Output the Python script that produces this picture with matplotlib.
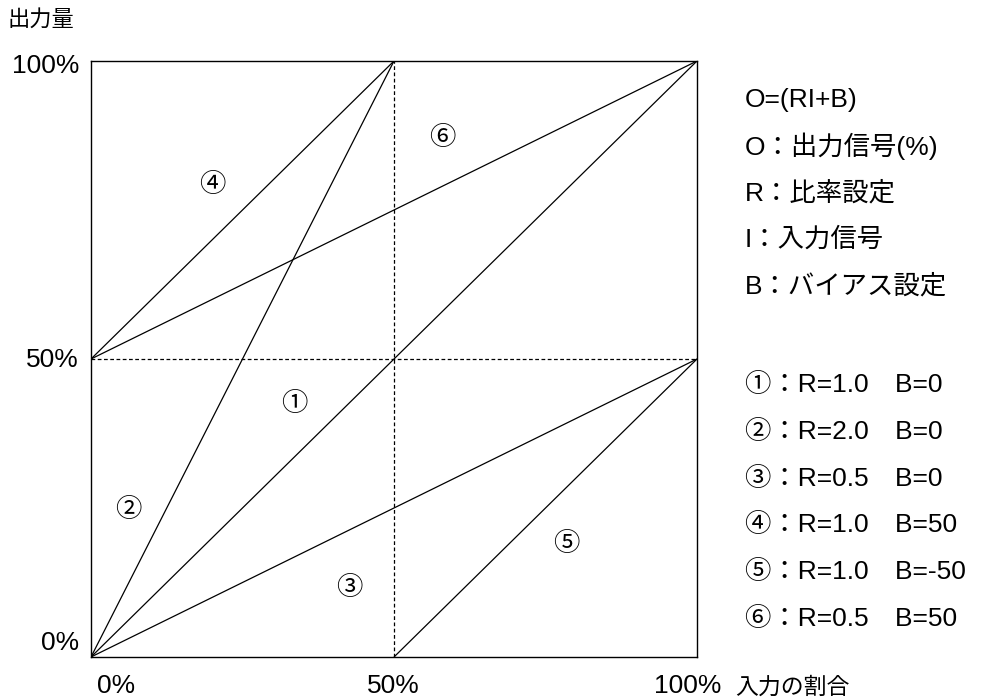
import numpy as np
import matplotlib
matplotlib.use("Agg")
import matplotlib.pyplot as plt

plt.rcParams['font.family'] = ['Liberation Sans', 'Noto Sans CJK JP', 'DejaVu Sans']

# data
labels = ['①', '②', '③', '④', '⑤', '⑥']
ratios = [1.0, 2.0, 0.5, 1.0, 1.0, 0.5]
biases = [0, 0, 0, 50, -50, 50]
x_ticks = [0, 50, 100]
x_tick_labels = ['0%', '50%', '100%']
y_ticks = [0, 50, 100]
y_tick_labels = ['0%', '50%', '100%']
formula_lines = ['O=(RI+B)', 'O：出力信号(%)', 'R：比率設定', 'I：入力信号', 'B：バイアス設定']
x_title = '入力の割合'
y_title = '出力量'

# label positions inside the plot (data coords)
label_pos = [(33.5, 42.6), (6.1, 24.7), (42.6, 11.6), (20.0, 79.2), (78.4, 19.1), (57.9, 87.2)]

W, H = 985, 700
fig = plt.figure(figsize=(W / 100, H / 100), dpi=100)
ax = fig.add_axes([91 / W, 1 - 657 / H, (697 - 91) / W, (657 - 61) / H])
ax.set_xlim(0, 100)
ax.set_ylim(0, 100)
ax.set_xticks([])
ax.set_yticks([])
for s in ax.spines.values():
    s.set_linewidth(1.0)
    s.set_color('black')

for r, b in zip(ratios, biases):
    x0 = max(0, (0 - b) / r)
    x1 = min(100, (100 - b) / r)
    xs = np.array([x0, x1])
    ax.plot(xs, r * xs + b, color='black', lw=0.9, solid_capstyle='butt')

ax.axvline(50, color='black', lw=0.9, ls=(0, (3, 2)))
ax.axhline(50, color='black', lw=0.9, ls=(0, (3, 2)))

cjk = ['Noto Sans CJK JP', 'DejaVu Sans']
for lab, (px, py) in zip(labels, label_pos):
    ax.text(px, py, lab, fontsize=19, ha='center', va='center', family=cjk)

# y tick labels
ypix = {100: 66, 50: 360, 0: 643}
for v, t in zip(y_ticks, y_tick_labels):
    fig.text(79 / W, 1 - ypix[v] / H, t, fontsize=19, ha='right', va='center')
# x tick labels
xpix = {0: 116, 50: 393, 100: 688}
for v, t in zip(x_ticks, x_tick_labels):
    fig.text(xpix[v] / W, 1 - 686 / H, t, fontsize=19, ha='center', va='center')

fig.text(735 / W, 1 - 687 / H, x_title, fontsize=16.5, ha='left', va='center')
fig.text(8 / W, 1 - 20 / H, y_title, fontsize=16, ha='left', va='center')

# formula text
for i, t in enumerate(formula_lines):
    fig.text(745 / W, 1 - (100 + i * 46.6) / H, t, fontsize=19, ha='left', va='center')

# legend text
for i, (lab, r, b) in enumerate(zip(labels, ratios, biases)):
    fig.text(745 / W, 1 - (385 + i * 46.8) / H, '%s：R=%.1f　B=%d' % (lab, r, b),
             fontsize=19, ha='left', va='center')

fig.savefig('out.png', dpi=100)
